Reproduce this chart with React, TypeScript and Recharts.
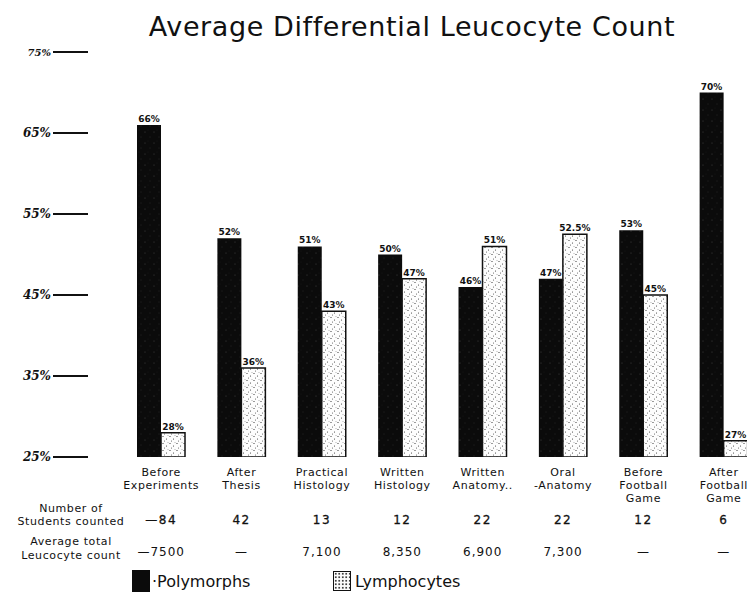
import { BarChart, Bar, XAxis, YAxis, LabelList } from "recharts";

// categories use "|" to mark the line breaks of the hand-lettered labels
const categories = [
  "Before|Experiments",
  "After|Thesis",
  "Practical|Histology",
  "Written|Histology",
  "Written|Anatomy..",
  "Oral|-Anatomy",
  "Before|Football|Game",
  "After|Football|Game",
];
const polymorphs = [66, 52, 51, 50, 46, 47, 53, 70];
const lymphocytes = [28, 36, 43, 47, 51, 52.5, 45, 27];
const studentsCounted = ["—84", "42", "13", "12", "22", "22", "12", "6"];
const leucocyteCount = ["—7500", "—", "7,100", "8,350", "6,900", "7,300", "—", "—"];
const yTicks = [25, 35, 45, 55, 65, 75];

const data = categories.map((name, i) => ({
  name,
  polymorphs: polymorphs[i],
  lymphocytes: lymphocytes[i],
  students: studentsCounted[i],
  leucocytes: leucocyteCount[i],
}));

const INK = "#111";
const FONT = "DejaVu Sans, sans-serif";

// eslint-disable-next-line @typescript-eslint/no-explicit-any
function YTick({ y, payload, index }: any) {
  const last = index === yTicks.length - 1;
  return (
    <g>
      <text
        x={43}
        y={y + 4}
        textAnchor="end"
        fontFamily="DejaVu Serif, serif"
        fontStyle="italic"
        fontWeight="bold"
        fontSize={last ? 10 : 12}
        fill={INK}
      >
        {payload.value}%
      </text>
      <line x1={45} x2={80} y1={y} y2={y} stroke={INK} strokeWidth={2} />
    </g>
  );
}

// eslint-disable-next-line @typescript-eslint/no-explicit-any
function XTick({ x, y, payload, index }: any) {
  const lines = String(payload.value).split("|");
  const row = data[index];
  return (
    <g fontFamily={FONT} fill={INK}>
      {lines.map((l, i) => (
        <text key={i} x={x} y={y + 19 + i * 13} textAnchor="middle" fontSize={11} letterSpacing={0.6}>
          {l}
        </text>
      ))}
      <text x={x} y={y + 67} textAnchor="middle" fontSize={12} letterSpacing={1.5} stroke={INK} strokeWidth={0.3}>
        {row?.students}
      </text>
      <text x={x} y={y + 99} textAnchor="middle" fontSize={12} letterSpacing={1}>
        {row?.leucocytes}
      </text>
    </g>
  );
}

const pctLabel = (v: unknown) => `${v}%`;

export default function App() {
  return (
    <div style={{ position: "relative", width: 747, height: 595, overflow: "hidden", background: "#fff" }}>
      <div
        style={{
          position: "absolute",
          left: 0,
          top: 3,
          width: 808,
          textAlign: "center",
          fontFamily: FONT,
          fontSize: 27,
          letterSpacing: 0.6,
          color: INK,
        }}
      >
        Average Differential Leucocyte Count
      </div>
      <BarChart
        width={760}
        height={595}
        data={data}
        margin={{ top: 44, right: 4, left: 0, bottom: 0 }}
        barSize={24}
        barGap={0}
      >
        <defs>
          <pattern id="stipple" width="7" height="7" patternUnits="userSpaceOnUse">
            <rect width="7" height="7" fill="#fdfdfd" />
            <circle cx="1" cy="1.5" r="0.6" fill="#222" />
            <circle cx="4.5" cy="4" r="0.55" fill="#333" />
            <circle cx="2.5" cy="6" r="0.5" fill="#444" />
            <circle cx="6" cy="0.5" r="0.4" fill="#555" />
          </pattern>
          <pattern id="dark" width="9" height="11" patternUnits="userSpaceOnUse">
            <rect width="9" height="11" fill="#0b0b0b" />
            <circle cx="2" cy="3" r="0.5" fill="#4a4a4a" />
            <circle cx="7" cy="8" r="0.45" fill="#3a3a3a" />
            <circle cx="5" cy="1" r="0.35" fill="#303030" />
          </pattern>
        </defs>
        <XAxis
          dataKey="name"
          axisLine={false}
          tickLine={false}
          tickSize={0}
          tickMargin={0}
          height={146}
          interval={0}
          tick={<XTick />}
        />
        <YAxis
          domain={[25, 75]}
          ticks={yTicks}
          allowDataOverflow
          axisLine={false}
          tickLine={false}
          width={113}
          tick={<YTick />}
        />
        <Bar dataKey="polymorphs" fill="url(#dark)" isAnimationActive={false}>
          <LabelList
            dataKey="polymorphs"
            position="top"
            offset={3}
            formatter={pctLabel}
            fontSize={9}
            fontWeight="bold"
            fontFamily={FONT}
            fill={INK}
          />
        </Bar>
        <Bar dataKey="lymphocytes" fill="url(#stipple)" stroke={INK} strokeWidth={1.5} isAnimationActive={false}>
          <LabelList
            dataKey="lymphocytes"
            position="top"
            offset={3}
            formatter={pctLabel}
            fontSize={9}
            fontWeight="bold"
            fontFamily={FONT}
            fill={INK}
          />
        </Bar>
      </BarChart>

      {/* row headings for the table under the axis */}
      <div style={{ position: "absolute", left: 0, top: 494, width: 126, textAlign: "center", fontFamily: FONT, fontSize: 11, lineHeight: "13px", color: INK, letterSpacing: 0.6 }}>
        Number of
        <br />
        Students counted
      </div>
      <div style={{ position: "absolute", left: 0, top: 527, width: 126, textAlign: "center", fontFamily: FONT, fontSize: 11, lineHeight: "14px", color: INK, letterSpacing: 0.6 }}>
        Average total
        <br />
        Leucocyte count
      </div>

      {/* legend */}
      <div style={{ position: "absolute", left: 124, top: 562, width: 18, height: 22, background: "#0b0b0b" }} />
      <div style={{ position: "absolute", left: 144, top: 564, fontFamily: FONT, fontSize: 16, color: INK }}>·Polymorphs</div>
      <div
        style={{
          position: "absolute",
          left: 325,
          top: 563,
          width: 16,
          height: 18,
          border: `1.5px solid ${INK}`,
          backgroundColor: "#fdfdfd",
          backgroundImage: "radial-gradient(#333 0.6px, transparent 0.9px)",
          backgroundSize: "3.5px 3.5px",
        }}
      />
      <div style={{ position: "absolute", left: 347, top: 564, fontFamily: FONT, fontSize: 16, color: INK }}>Lymphocytes</div>
    </div>
  );
}
